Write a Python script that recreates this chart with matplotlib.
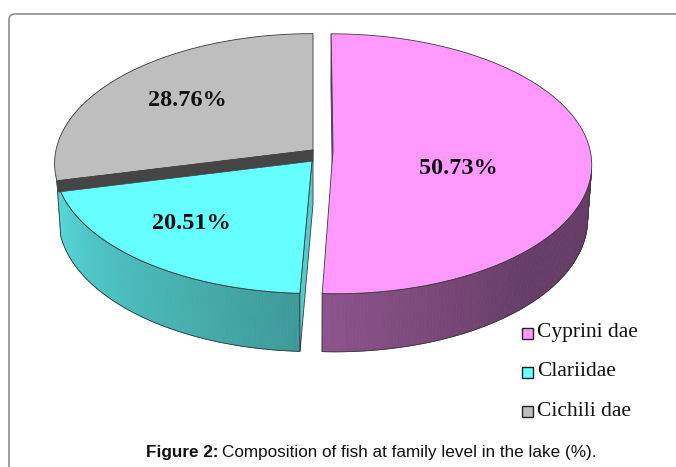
import numpy as np
import matplotlib

matplotlib.use("Agg")
import matplotlib.pyplot as plt
from matplotlib.patches import Polygon, PathPatch, Rectangle
from matplotlib.path import Path

# data
families = ["Cyprini dae", "Clariidae", "Cichili dae"]
shares = [50.73, 20.51, 28.76]
top_colors = ["#ff99ff", "#66ffff", "#bebebe"]
explode = [0.078, 0.0, 0.0]

# projection of the 3d pie (pixel space)
CX, CY = 313, 150
FOCAL = 2133.0
DIST = 8.3
ELEV = np.radians(30)
THICK = 0.247
BAND = 0.05
LABEL_R = [0.5, 0.7, 0.65]
LABEL_DA = [-15, 0, 0]
# side shading per slice, from the left end: factor there, factor after ramp, ramp (deg)
SIDE_SHADE = [(0.55, 0.40, 45), (0.85, 0.60, 74), (0.7, 0.7, 1)]
EDGE = "#3a3a3a"


def proj(X, Y, Z):
    X, Y, Z = np.broadcast_arrays(np.asarray(X, float), np.asarray(Y, float), np.asarray(Z, float))
    depth = DIST + Y * np.cos(ELEV) - Z * np.sin(ELEV)
    sx = FOCAL * X / depth
    sy = FOCAL * (Y * np.sin(ELEV) + Z * np.cos(ELEV)) / depth
    return np.column_stack([CX + sx, CY - sy])


def rgb(hexcol, k=1.0):
    c = np.array(matplotlib.colors.to_rgb(hexcol)) * k
    return np.clip(c, 0, 1)


def visible(ox, oy, t):
    return -ox * np.cos(t) - oy * np.sin(t) - 1 - DIST * np.cos(ELEV) * np.sin(t)


cam = np.array([0.0, -DIST * np.cos(ELEV), DIST * np.sin(ELEV)])

total = sum(shares)
spans = [360.0 * s / total for s in shares]
starts = 90.0 - np.concatenate([[0], np.cumsum(spans)[:-1]])
ends = starts - np.array(spans)

fig = plt.figure(figsize=(6.76, 4.67), dpi=100)
ax = fig.add_axes([0, 0, 1, 1])
ax.set_xlim(0, 676)
ax.set_ylim(467, 0)
ax.axis("off")

slices = []
for i in range(len(shares)):
    mid = np.radians((starts[i] + ends[i]) / 2)
    slices.append((explode[i] * np.cos(mid), explode[i] * np.sin(mid)))

# outer side and radial faces
for i, (ox, oy) in enumerate(slices):
    if i == 2:
        continue  # gray side is edge-on at the far left
    th = np.linspace(starts[i], ends[i], 240)
    tr = np.radians(th)
    tm_all = (tr[:-1] + tr[1:]) / 2
    vis_all = visible(ox, oy, tm_all)
    idx = np.where(vis_all > 0)[0]
    k0, k1, ramp = SIDE_SHADE[i]
    if len(idx):
        a_left = np.degrees(tm_all[idx[-1]])
        for k in idx:
            frac = min(abs(np.degrees(tm_all[k]) - a_left) / ramp, 1.0)
            col = rgb(top_colors[i], k0 + (k1 - k0) * frac)
            xs = ox + np.cos(tr[k:k + 2])
            ys = oy + np.sin(tr[k:k + 2])
            quad = np.vstack([proj(xs, ys, 0), proj(xs[::-1], ys[::-1], -THICK)])
            ax.add_patch(Polygon(quad, closed=True, facecolor=col, edgecolor=col, lw=0.6, zorder=1))
        seg = tr[idx[0]: idx[-1] + 2]
        xs, ys = ox + np.cos(seg), oy + np.sin(seg)
        outline = np.vstack([proj(xs, ys, 0), proj(xs[::-1], ys[::-1], -THICK)])
        ax.add_patch(Polygon(outline, closed=True, fill=False, edgecolor=EDGE, lw=0.6, zorder=2))
    for ang, sign in ((starts[i], 1), (ends[i], -1)):
        a = np.radians(ang)
        n = sign * np.array([-np.sin(a), np.cos(a), 0.0])
        p = np.array([ox + 0.5 * np.cos(a), oy + 0.5 * np.sin(a), 0.0])
        if np.dot(cam - p, n) <= 1e-3:
            continue
        xs = np.array([ox, ox + np.cos(a)])
        ys = np.array([oy, oy + np.sin(a)])
        face = np.vstack([proj(xs, ys, 0), proj(xs[::-1], ys[::-1], -THICK)])
        ax.add_patch(Polygon(face, closed=True, facecolor=rgb(top_colors[i], 0.8),
                             edgecolor=EDGE, lw=0.6, zorder=2))

# top faces
for i, (ox, oy) in enumerate(slices):
    tr = np.radians(np.linspace(starts[i], ends[i], 300))
    rim = proj(ox + np.cos(tr), oy + np.sin(tr), 0)
    centre = proj(ox, oy, 0)
    ax.add_patch(Polygon(np.vstack([centre, rim]), closed=True, facecolor=top_colors[i],
                         edgecolor=EDGE, lw=0.6, zorder=3))

# dark band on the gray / cyan cut
a = np.radians(starts[2])
xs = np.array([0, np.cos(a)])
ys = np.array([0, np.sin(a)])
band = np.vstack([proj(xs, ys, 0), proj(xs[::-1], ys[::-1], -BAND)])
ax.add_patch(Polygon(band, closed=True, facecolor="#454545", edgecolor="#454545", lw=0.5, zorder=4))

# value labels
for i, (ox, oy) in enumerate(slices):
    mid = np.radians((starts[i] + ends[i]) / 2 + LABEL_DA[i])
    pos = proj(ox + LABEL_R[i] * np.cos(mid), oy + LABEL_R[i] * np.sin(mid), 0)[0]
    ax.text(pos[0], pos[1], f"{shares[i]:.2f}%", ha="center", va="center",
            fontsize=17.5, fontweight="bold", family="Liberation Serif", color="#111111", zorder=5)

# legend
for i, name in enumerate(families):
    y = 333 + 39 * i
    ax.add_patch(Rectangle((522, y - 5.5), 11, 11, facecolor=top_colors[i],
                           edgecolor="#222222", lw=1.0, zorder=5))
    ax.text(537, y, name, ha="left", va="center", fontsize=15.5,
            family="Liberation Serif", color="#111111", zorder=5)

# frame
verts = [(9, 467), (9, 20), (9, 14), (15, 14), (676, 14)]
codes = [Path.MOVETO, Path.LINETO, Path.CURVE3, Path.CURVE3, Path.LINETO]
ax.add_patch(PathPatch(Path(verts, codes), fill=False, edgecolor="#8c8c8c", lw=1.2, zorder=0))

# caption
renderer = fig.canvas.get_renderer()
t1 = ax.text(146, 452, "Figure 2:", ha="left", va="center", fontsize=12.3,
             fontweight="bold", family="Liberation Sans", color="#111111")
bb = t1.get_window_extent(renderer=renderer)
x_end = ax.transData.inverted().transform((bb.x1, bb.y0))[0]
ax.text(x_end + 4, 452, "Composition of fish at family level in the lake (%).", ha="left",
        va="center", fontsize=12.3, family="Liberation Sans", color="#111111")

fig.savefig("out.png", dpi=100)
